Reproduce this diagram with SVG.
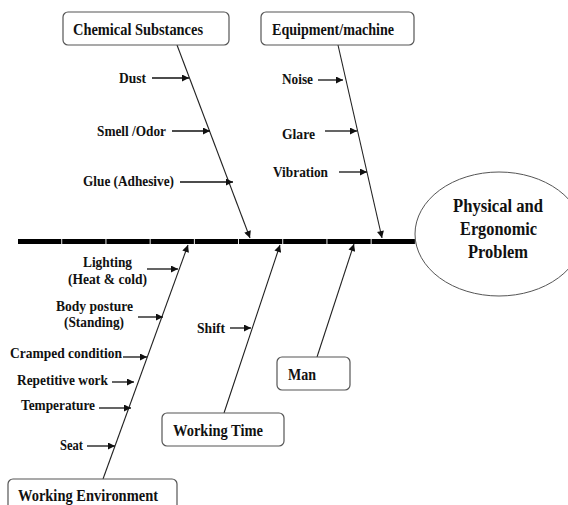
<svg xmlns="http://www.w3.org/2000/svg" width="568" height="505" viewBox="0 0 568 505">
<defs>
<style>
.box{fill:#fff;stroke:#555;stroke-width:1.2}
.t{font-family:"Liberation Serif","Times New Roman",serif;font-weight:bold;fill:#111}
.title{font-size:16px}
.lab{font-size:15px}
.big{font-size:18px}
.bone{stroke:#222;stroke-width:1.1;fill:none}
.arr{stroke:#111;stroke-width:1.3;fill:none}
</style>
<marker id="ah" viewBox="0 0 10 10" refX="10" refY="5" markerWidth="8" markerHeight="7" markerUnits="userSpaceOnUse" orient="auto">
<path d="M0,0 L10,5 L0,10 z" fill="#111"/>
</marker>
</defs>
<rect width="568" height="505" fill="#fff"/>

<g id="spine">
<line x1="18" y1="241.5" x2="416" y2="241.5" stroke="#000" stroke-width="5" stroke-dasharray="43.3 0.9"/>
</g>

<g id="effect">
<ellipse cx="499" cy="234" rx="84" ry="62" fill="#fff" stroke="#555" stroke-width="1"/>
<text class="t big" x="453" y="212" textLength="90" lengthAdjust="spacingAndGlyphs">Physical and</text>
<text class="t big" x="460" y="235" textLength="77" lengthAdjust="spacingAndGlyphs">Ergonomic</text>
<text class="t big" x="468" y="258" textLength="60" lengthAdjust="spacingAndGlyphs">Problem</text>
</g>

<g id="connectors">
<line class="bone" x1="177" y1="45" x2="250" y2="238" marker-end="url(#ah)"/>
<line class="bone" x1="338" y1="45" x2="382" y2="238" marker-end="url(#ah)"/>
<line class="bone" x1="103" y1="479" x2="188" y2="245" marker-end="url(#ah)"/>
<line class="bone" x1="224" y1="413" x2="280" y2="245" marker-end="url(#ah)"/>
<line class="bone" x1="317" y1="357" x2="354" y2="244" marker-end="url(#ah)"/>

<line class="arr" x1="152" y1="78" x2="189" y2="78" marker-end="url(#ah)"/>
<line class="arr" x1="172" y1="131" x2="210" y2="131" marker-end="url(#ah)"/>
<line class="arr" x1="180" y1="182" x2="233" y2="182" marker-end="url(#ah)"/>
<line class="arr" x1="318" y1="80" x2="343" y2="80" marker-end="url(#ah)"/>
<line class="arr" x1="325" y1="131" x2="357" y2="131" marker-end="url(#ah)"/>
<line class="arr" x1="339" y1="172" x2="367" y2="172" marker-end="url(#ah)"/>

<line class="arr" x1="147" y1="269" x2="178" y2="269" marker-end="url(#ah)"/>
<line class="arr" x1="138" y1="317" x2="163" y2="317" marker-end="url(#ah)"/>
<line class="arr" x1="123" y1="357" x2="147" y2="357" marker-end="url(#ah)"/>
<line class="arr" x1="112" y1="382" x2="134" y2="382" marker-end="url(#ah)"/>
<line class="arr" x1="99" y1="408" x2="131" y2="408" marker-end="url(#ah)"/>
<line class="arr" x1="87" y1="446" x2="115" y2="446" marker-end="url(#ah)"/>
<line class="arr" x1="230" y1="328" x2="251" y2="328" marker-end="url(#ah)"/>
</g>

<g id="chemical">
<rect class="box" x="63" y="12" width="166" height="33" rx="5"/>
<text class="t title" x="73" y="35" textLength="130" lengthAdjust="spacingAndGlyphs">Chemical Substances</text>
</g>
<g id="equipment">
<rect class="box" x="261" y="12" width="153" height="33" rx="5"/>
<text class="t title" x="272" y="35" textLength="122" lengthAdjust="spacingAndGlyphs">Equipment/machine</text>
</g>
<g id="man">
<rect class="box" x="277" y="357" width="73" height="33" rx="5"/>
<text class="t title" x="288" y="380" textLength="28" lengthAdjust="spacingAndGlyphs">Man</text>
</g>
<g id="working-time">
<rect class="box" x="162" y="413" width="122" height="33" rx="5"/>
<text class="t title" x="173" y="436" textLength="90" lengthAdjust="spacingAndGlyphs">Working Time</text>
</g>
<g id="working-environment">
<rect class="box" x="8" y="479" width="169" height="40" rx="5"/>
<text class="t title" x="18" y="501" textLength="140" lengthAdjust="spacingAndGlyphs">Working Environment</text>
</g>

<g id="labels">
<text class="t lab" x="119" y="83" textLength="27" lengthAdjust="spacingAndGlyphs">Dust</text>
<text class="t lab" x="97" y="136" textLength="69" lengthAdjust="spacingAndGlyphs">Smell /Odor</text>
<text class="t lab" x="83" y="186" textLength="91" lengthAdjust="spacingAndGlyphs">Glue (Adhesive)</text>
<text class="t lab" x="282" y="84" textLength="31" lengthAdjust="spacingAndGlyphs">Noise</text>
<text class="t lab" x="282" y="139" textLength="33" lengthAdjust="spacingAndGlyphs">Glare</text>
<text class="t lab" x="273" y="177" textLength="55" lengthAdjust="spacingAndGlyphs">Vibration</text>
<text class="t lab" x="83" y="267" textLength="49" lengthAdjust="spacingAndGlyphs">Lighting</text>
<text class="t lab" x="68" y="284" textLength="79" lengthAdjust="spacingAndGlyphs">(Heat &amp; cold)</text>
<text class="t lab" x="56" y="311" textLength="77" lengthAdjust="spacingAndGlyphs">Body posture</text>
<text class="t lab" x="64" y="327" textLength="60" lengthAdjust="spacingAndGlyphs">(Standing)</text>
<text class="t lab" x="10" y="358" textLength="112" lengthAdjust="spacingAndGlyphs">Cramped condition</text>
<text class="t lab" x="17" y="385" textLength="91" lengthAdjust="spacingAndGlyphs">Repetitive work</text>
<text class="t lab" x="21" y="410" textLength="74" lengthAdjust="spacingAndGlyphs">Temperature</text>
<text class="t lab" x="60" y="450" textLength="23" lengthAdjust="spacingAndGlyphs">Seat</text>
<text class="t lab" x="197" y="333" textLength="28" lengthAdjust="spacingAndGlyphs">Shift</text>
</g>
</svg>
